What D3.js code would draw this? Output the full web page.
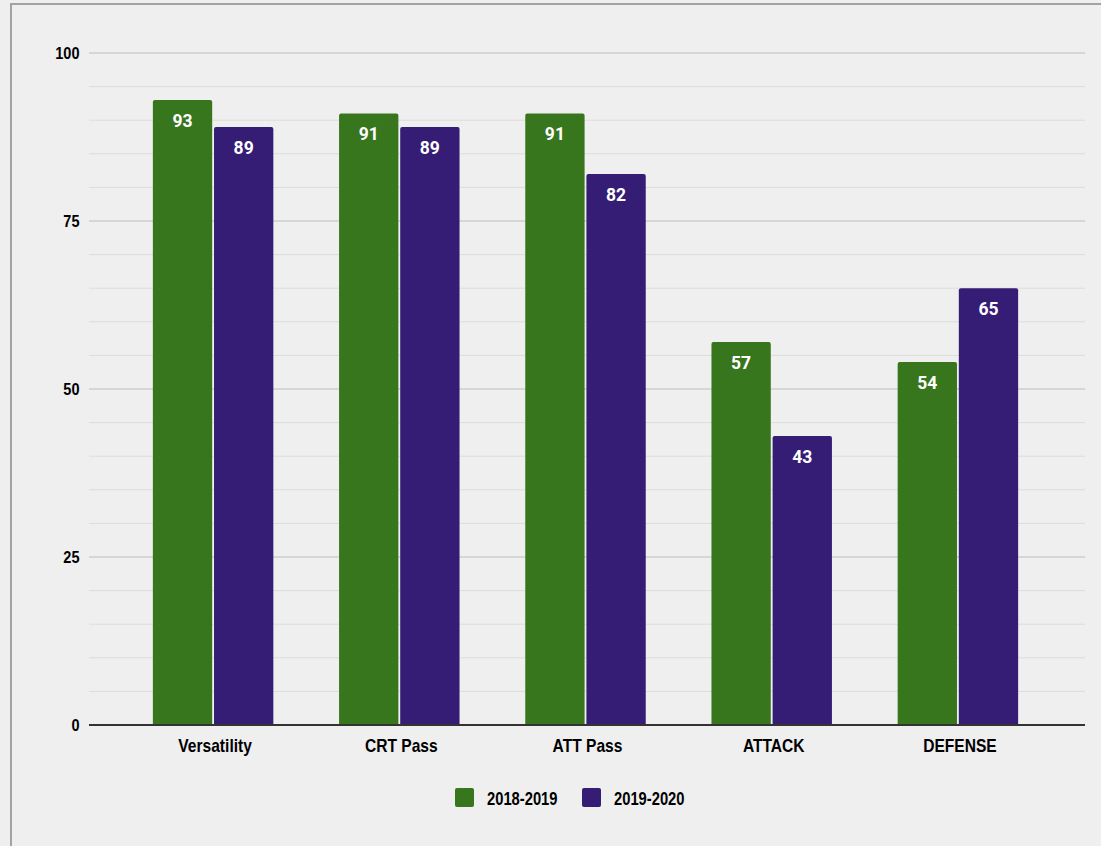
<!DOCTYPE html>
<html>
<head>
<meta charset="utf-8">
<script src="https://cdn.jsdelivr.net/npm/d3@7"></script>
<style>
  html, body { margin: 0; padding: 0; background: #efefef; }
  svg { display: block; }
</style>
</head>
<body>
<svg id="chart" width="1101" height="846"></svg>
<script>
const categories = ["Versatility", "CRT Pass", "ATT Pass", "ATTACK", "DEFENSE"];
const seriesNames = ["2018-2019", "2019-2020"];
const values2018 = [93, 91, 91, 57, 54];
const values2019 = [89, 89, 82, 43, 65];
const yTicks = [0, 25, 50, 75, 100];
const colors = ["#38761d", "#351c75"];

const svg = d3.select("#chart");
const W = 1101, H = 846;
const axisFont = "'Liberation Sans', Arial, sans-serif";

// frame
svg.append("rect").attr("x", 0).attr("y", 0).attr("width", W).attr("height", H).attr("fill", "#efefef");
svg.append("path").attr("d", `M11,${H + 5} L11,4 L${W + 5},4`).attr("fill", "none")
  .attr("stroke", "#a3a3a3").attr("stroke-width", 2);

const plotL = 89, plotR = 1085;
const y = d3.scaleLinear().domain([0, 100]).range([725, 53]);
const x = d3.scaleBand().domain(categories).range([120, 1051]).paddingInner(0.353).paddingOuter(0.1765);
const xs = d3.scaleBand().domain(seriesNames).range([0, x.bandwidth()]).paddingInner(0.03);

// minor gridlines
const minor = d3.range(5, 100, 5).filter(v => v % 25 !== 0);
svg.append("g").selectAll("line").data(minor).join("line")
  .attr("x1", plotL).attr("x2", plotR)
  .attr("y1", d => y(d)).attr("y2", d => y(d))
  .attr("stroke", "#dcdcdc").attr("stroke-width", 1);

// major gridlines
svg.append("g").selectAll("line").data(yTicks.filter(v => v !== 0)).join("line")
  .attr("x1", plotL).attr("x2", plotR)
  .attr("y1", d => y(d)).attr("y2", d => y(d))
  .attr("stroke", "#bdbdbd").attr("stroke-width", 1.2);

// y tick labels
svg.append("g").selectAll("text").data(yTicks).join("text")
  .attr("transform", d => `translate(79.5,${y(d) + 6.3}) scale(0.88,1)`)
  .attr("text-anchor", "end")
  .attr("font-family", axisFont)
  .attr("font-weight", "bold").attr("font-size", 16.5).attr("fill", "#000")
  .text(d => d);

// bars
const data = categories.map((c, i) => ({
  cat: c,
  vals: [
    { s: seriesNames[0], v: values2018[i], c: colors[0] },
    { s: seriesNames[1], v: values2019[i], c: colors[1] }
  ]
}));

const groups = svg.append("g").selectAll("g").data(data).join("g")
  .attr("transform", d => `translate(${x(d.cat)},0)`);

groups.selectAll("path").data(d => d.vals).join("path")
  .attr("d", d => {
    const x0 = xs(d.s), w = xs.bandwidth(), t = y(d.v), b = y(0), r = 2;
    return `M${x0},${b} L${x0},${t + r} Q${x0},${t} ${x0 + r},${t} L${x0 + w - r},${t} Q${x0 + w},${t} ${x0 + w},${t + r} L${x0 + w},${b} Z`;
  })
  .attr("fill", d => d.c);

groups.selectAll("text").data(d => d.vals).join("text")
  .attr("x", d => xs(d.s) + xs.bandwidth() / 2)
  .attr("y", d => y(d.v) + 27)
  .attr("text-anchor", "middle")
  .attr("font-family", "Roboto, 'Open Sans', sans-serif")
  .attr("font-weight", "bold").attr("font-size", 17.5).attr("fill", "#fff")
  .text(d => d.v);

// baseline
svg.append("line").attr("x1", plotL).attr("x2", plotR)
  .attr("y1", y(0)).attr("y2", y(0))
  .attr("stroke", "#333").attr("stroke-width", 2);

// x labels
svg.append("g").selectAll("text").data(categories).join("text")
  .attr("transform", d => `translate(${x(d) + x.bandwidth() / 2 + 2},752) scale(0.89,1)`)
  .attr("text-anchor", "middle")
  .attr("font-family", axisFont)
  .attr("font-weight", "bold").attr("font-size", 17.5).attr("fill", "#000")
  .text(d => d);

// legend
const legendX = [455, 582];
const lg = svg.append("g").selectAll("g").data(seriesNames).join("g")
  .attr("transform", (d, i) => `translate(${legendX[i]},788)`);
lg.append("rect").attr("width", 19).attr("height", 19).attr("rx", 2)
  .attr("fill", (d, i) => colors[i]);
lg.append("text").attr("transform", "translate(32,17) scale(0.82,1)")
  .attr("font-family", axisFont)
  .attr("font-weight", "bold").attr("font-size", 18).attr("fill", "#000")
  .text(d => d);
</script>
</body>
</html>
